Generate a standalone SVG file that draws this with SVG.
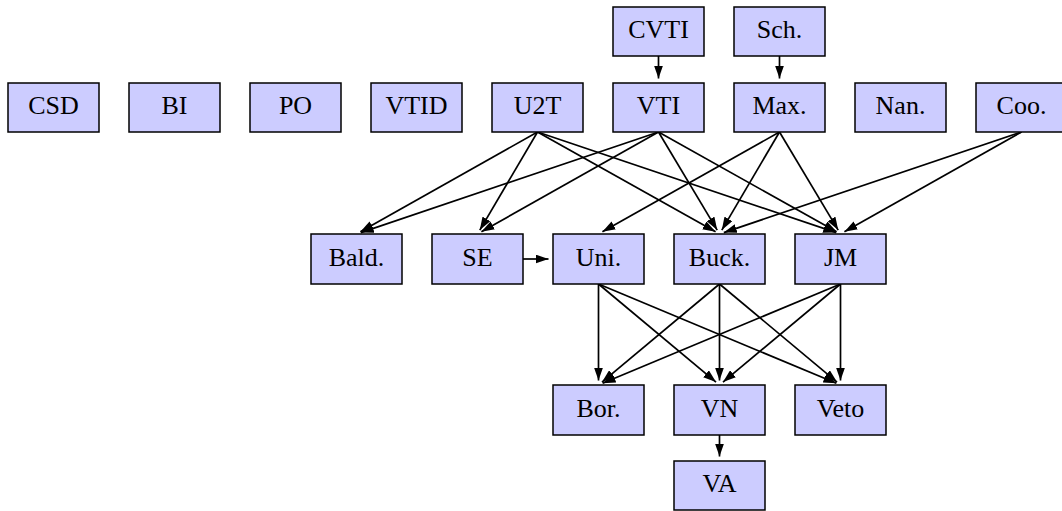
<svg xmlns="http://www.w3.org/2000/svg" width="1062" height="511" viewBox="0 0 1062 511">
<style>
.n rect{fill:#ccccff;stroke:#000;stroke-width:1.5}
.n text{font-family:"Liberation Serif",serif;font-size:26px;text-anchor:middle;fill:#000}
#edges line{stroke:#000;stroke-width:1.7;marker-end:url(#ah)}
</style>
<defs>
<marker id="ah" markerUnits="userSpaceOnUse" markerWidth="13" markerHeight="9" refX="13" refY="4.5" orient="auto">
<path d="M0,0 L13,4.5 L0,9 Z" fill="#000"/>
</marker>
</defs>
<rect width="1062" height="511" fill="#fff"/>
<g id="edges">
<line x1="658.5" y1="56" x2="658.5" y2="78.5"/>
<line x1="779.5" y1="56" x2="779.5" y2="78.5"/>
<line x1="537.5" y1="132" x2="360.4" y2="231.8"/>
<line x1="537.5" y1="132" x2="479.8" y2="230.1"/>
<line x1="537.5" y1="132" x2="715.6" y2="231.8"/>
<line x1="537.5" y1="132" x2="836.2" y2="232.6"/>
<line x1="658.5" y1="132" x2="360.8" y2="232.6"/>
<line x1="658.5" y1="132" x2="481.4" y2="231.8"/>
<line x1="658.5" y1="132" x2="717.2" y2="230.1"/>
<line x1="658.5" y1="132" x2="836.6" y2="231.8"/>
<line x1="779.5" y1="132" x2="602.4" y2="231.8"/>
<line x1="779.5" y1="132" x2="721.8" y2="230.1"/>
<line x1="779.5" y1="132" x2="838.2" y2="230.1"/>
<line x1="1021.5" y1="132" x2="723.8" y2="232.6"/>
<line x1="1021.5" y1="132" x2="844.4" y2="231.8"/>
<line x1="523" y1="259" x2="548.5" y2="259"/>
<line x1="598.5" y1="284" x2="598.5" y2="380.5"/>
<line x1="598.5" y1="284" x2="716.0" y2="382.1"/>
<line x1="598.5" y1="284" x2="836.4" y2="383.3"/>
<line x1="719.5" y1="284" x2="602.0" y2="382.1"/>
<line x1="719.5" y1="284" x2="719.5" y2="380.5"/>
<line x1="719.5" y1="284" x2="837.0" y2="382.1"/>
<line x1="840.5" y1="284" x2="602.6" y2="383.3"/>
<line x1="840.5" y1="284" x2="723.0" y2="382.1"/>
<line x1="840.5" y1="284" x2="840.5" y2="380.5"/>
<line x1="719.5" y1="435" x2="719.5" y2="456.5"/>
</g>
<g id="CVTI" class="n"><rect x="613" y="7" width="91" height="49"/><text x="658.5" y="38">CVTI</text></g>
<g id="Sch" class="n"><rect x="734" y="7" width="91" height="49"/><text x="779.5" y="38">Sch.</text></g>
<g id="CSD" class="n"><rect x="8" y="83" width="91" height="49"/><text x="53.5" y="114">CSD</text></g>
<g id="BI" class="n"><rect x="129" y="83" width="91" height="49"/><text x="174.5" y="114">BI</text></g>
<g id="PO" class="n"><rect x="250" y="83" width="91" height="49"/><text x="295.5" y="114">PO</text></g>
<g id="VTID" class="n"><rect x="371" y="83" width="91" height="49"/><text x="416.5" y="114">VTID</text></g>
<g id="U2T" class="n"><rect x="492" y="83" width="91" height="49"/><text x="537.5" y="114">U2T</text></g>
<g id="VTI" class="n"><rect x="613" y="83" width="91" height="49"/><text x="658.5" y="114">VTI</text></g>
<g id="Max" class="n"><rect x="734" y="83" width="91" height="49"/><text x="779.5" y="114">Max.</text></g>
<g id="Nan" class="n"><rect x="855" y="83" width="91" height="49"/><text x="900.5" y="114">Nan.</text></g>
<g id="Coo" class="n"><rect x="976" y="83" width="91" height="49"/><text x="1021.5" y="114">Coo.</text></g>
<g id="Bald" class="n"><rect x="311" y="234" width="91" height="50"/><text x="356.5" y="265.5">Bald.</text></g>
<g id="SE" class="n"><rect x="432" y="234" width="91" height="50"/><text x="477.5" y="265.5">SE</text></g>
<g id="Uni" class="n"><rect x="553" y="234" width="91" height="50"/><text x="598.5" y="265.5">Uni.</text></g>
<g id="Buck" class="n"><rect x="674" y="234" width="91" height="50"/><text x="719.5" y="265.5">Buck.</text></g>
<g id="JM" class="n"><rect x="795" y="234" width="91" height="50"/><text x="840.5" y="265.5">JM</text></g>
<g id="Bor" class="n"><rect x="553" y="385" width="91" height="50"/><text x="598.5" y="416.5">Bor.</text></g>
<g id="VN" class="n"><rect x="674" y="385" width="91" height="50"/><text x="719.5" y="416.5">VN</text></g>
<g id="Veto" class="n"><rect x="795" y="385" width="91" height="50"/><text x="840.5" y="416.5">Veto</text></g>
<g id="VA" class="n"><rect x="674" y="461" width="91" height="49"/><text x="719.5" y="492">VA</text></g>
</svg>
